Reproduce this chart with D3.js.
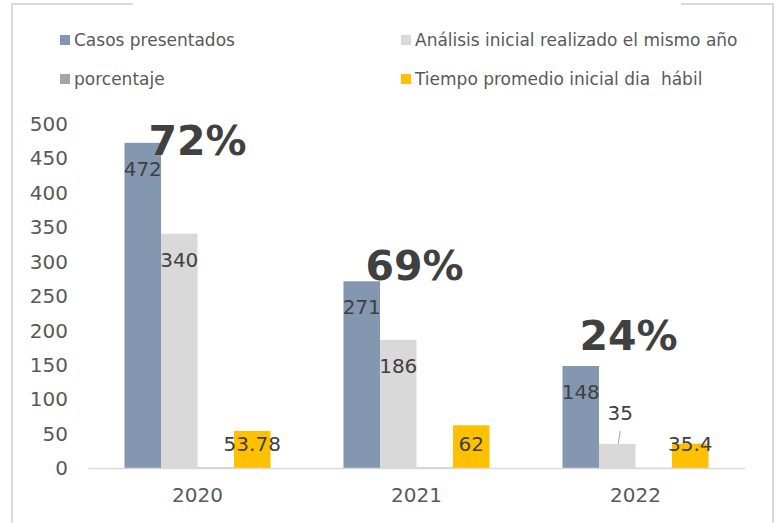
<!DOCTYPE html>
<html>
<head>
<meta charset="utf-8">
<script src="https://cdn.jsdelivr.net/npm/d3@7"></script>
<style>
  html, body { margin: 0; padding: 0; background: #fff; }
  svg { display: block; font-family: "DejaVu Sans", sans-serif; }
</style>
</head>
<body>
<svg id="chart" width="778" height="523"></svg>
<script>
// ---- data ----
const categories = ["2020", "2021", "2022"];
const seriesNames = ["Casos presentados", "Análisis inicial realizado el mismo año", "porcentaje", "Tiempo promedio inicial dia  hábil"];
const casos = [472, 271, 148];
const analisis = [340, 186, 35];
const porcentaje = [0.72, 0.69, 0.24];
const tiempo = [53.78, 62, 35.4];
const tiempoLabels = ["53.78", "62", "35.4"];
const porcentajeLabels = ["72%", "69%", "24%"];
const yTicks = [0, 50, 100, 150, 200, 250, 300, 350, 400, 450, 500];

// ---- styles ----
const colors = ["#8497B0", "#D9D9D9", "#A5A5A5", "#FFC000"];
const seriesValues = [casos, analisis, porcentaje, tiempo];

const svg = d3.select("#chart");

// frame
const frame = svg.append("g").attr("stroke", "#D9D9D9").attr("stroke-width", 2).attr("fill", "none");
frame.append("path").attr("d", "M12,523 V4 H133");
frame.append("path").attr("d", "M681,4 H773 V523");

// scales
const x0 = d3.scaleBand().domain(categories).range([88, 745]).paddingInner(0).paddingOuter(0);
const x1 = d3.scaleBand().domain(d3.range(seriesNames.length)).range([0, x0.bandwidth()]).paddingInner(0).paddingOuter(1);
const y = d3.scaleLinear().domain([0, 500]).range([468, 123.5]);

// y axis labels (no line, no ticks)
const yAxis = d3.axisLeft(y).tickValues(yTicks).tickSize(0).tickPadding(0);
const yg = svg.append("g").attr("transform", "translate(68,0)").call(yAxis);
yg.select(".domain").remove();
yg.selectAll("text").attr("font-size", 20).attr("fill", "#595959").attr("font-family", "DejaVu Sans").attr("dy", "0.34em");

// bars
const groups = svg.append("g").selectAll("g").data(categories).join("g")
  .attr("transform", d => `translate(${x0(d)},0)`);

groups.each(function(cat, ci) {
  const g = d3.select(this);
  seriesValues.forEach((vals, si) => {
    g.append("rect")
      .attr("x", x1(si))
      .attr("width", x1.bandwidth())
      .attr("y", y(vals[ci]))
      .attr("height", y(0) - y(vals[ci]))
      .attr("fill", colors[si]);
  });
});

// x axis
const xAxis = d3.axisBottom(x0).tickSize(0).tickPadding(0);
const xg = svg.append("g").attr("transform", `translate(0,${y(0)})`).call(xAxis);
xg.select(".domain").attr("stroke", "#D9D9D9").attr("stroke-width", 1.5);
xg.selectAll("text").attr("font-size", 20).attr("fill", "#595959").attr("font-family", "DejaVu Sans")
  .attr("dy", null).attr("y", 28).attr("dominant-baseline", "middle");

// data labels
const labels = svg.append("g").attr("font-size", 20).attr("fill", "#404040").attr("text-anchor", "middle");
categories.forEach((cat, ci) => {
  const gx = x0(cat);
  // casos - inside end
  labels.append("text")
    .attr("x", gx + x1(0) + x1.bandwidth() / 2)
    .attr("y", y(casos[ci]) + 26).attr("dy", "0.36em").text(casos[ci]);
  // analisis - inside end, small bar gets label above with leader line
  const ax = gx + x1(1) + x1.bandwidth() / 2;
  if (y(0) - y(analisis[ci]) > 45) {
    labels.append("text").attr("x", ax).attr("y", y(analisis[ci]) + 26).attr("dy", "0.36em").text(analisis[ci]);
  } else {
    labels.append("text").attr("x", ax + 3).attr("y", y(analisis[ci]) - 31).attr("dy", "0.36em").text(analisis[ci]);
    svg.append("line")
      .attr("x1", ax + 1).attr("y1", y(analisis[ci]))
      .attr("x2", ax + 3).attr("y2", y(analisis[ci]) - 13)
      .attr("stroke", "#A6A6A6").attr("stroke-width", 1);
  }
  // tiempo - inside base
  labels.append("text")
    .attr("x", gx + x1(3) + x1.bandwidth() / 2)
    .attr("y", y(0) - 24).attr("dy", "0.36em").text(tiempoLabels[ci]);
});

// porcentaje labels (manually placed near the group's first bar)
const pctDx = [0, -2, -7];
const pctDy = [12, -1, -16];
const pct = svg.append("g").attr("font-size", 41).attr("font-weight", "bold").attr("fill", "#404040").attr("text-anchor", "middle");
categories.forEach((cat, ci) => {
  pct.append("text")
    .attr("x", x0(cat) + x0.bandwidth() / 2 + pctDx[ci])
    .attr("y", y(casos[ci]) + pctDy[ci])
    .text(porcentajeLabels[ci]);
});

// legend
const legendPos = [[60, 40], [401, 40], [60, 79], [401, 79]];
const lg = svg.append("g");
seriesNames.forEach((name, i) => {
  const [lx, ly] = legendPos[i];
  lg.append("rect").attr("x", lx).attr("y", ly - 5).attr("width", 10).attr("height", 10).attr("fill", colors[i]);
  lg.append("text").attr("x", lx + 14).attr("y", ly).attr("dy", "0.36em")
    .attr("font-size", 17).attr("fill", "#595959").attr("xml:space", "preserve").style("white-space", "pre").text(name);
});
</script>
</body>
</html>
